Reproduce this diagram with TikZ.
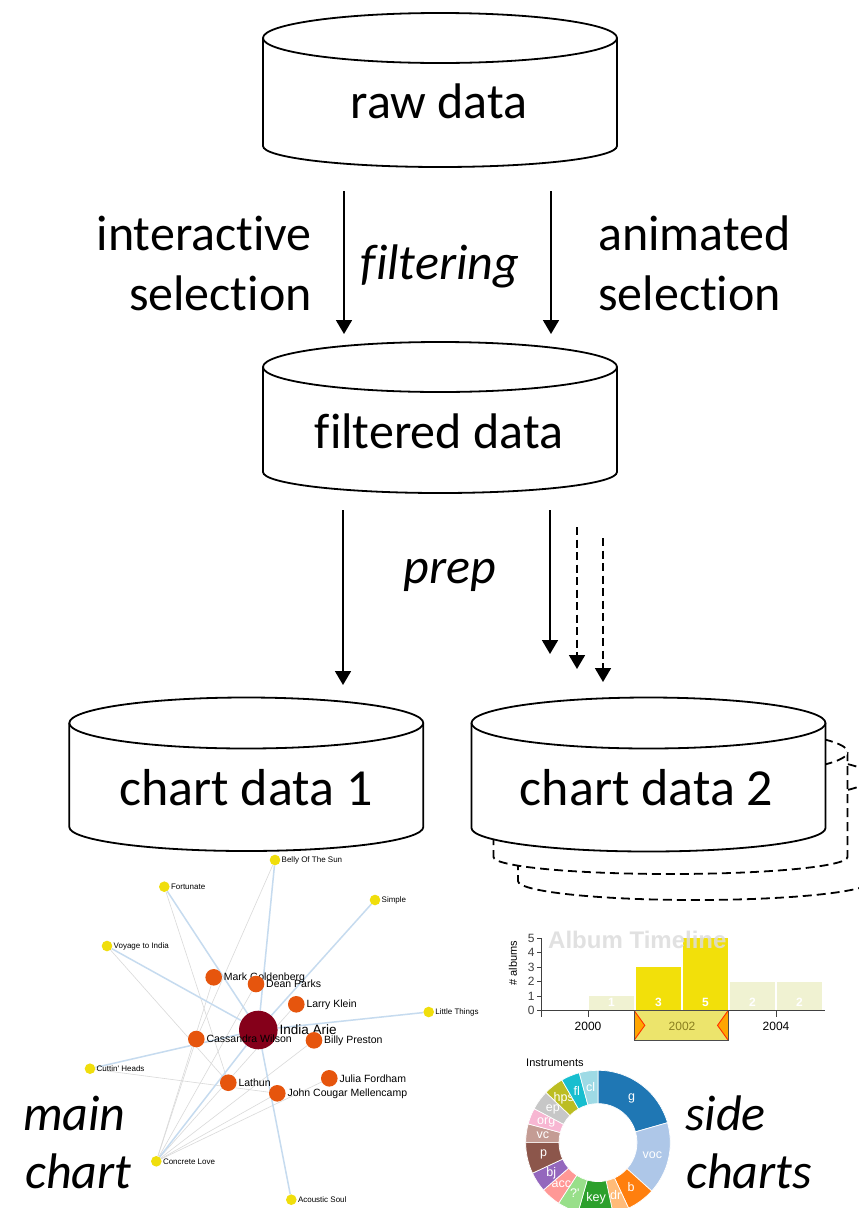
\documentclass[tikz,border=0pt]{standalone}
\usepackage{fontspec}
\setmainfont{Carlito}[Ligatures={NoCommon}]
\newfontfamily\chartfont{Liberation Sans}
\usetikzlibrary{arrows.meta}
\definecolor{albumyel}{HTML}{F0DE0C}
\definecolor{musorange}{HTML}{E6550D}
\definecolor{indiared}{HTML}{85001A}
\definecolor{edgeblue}{HTML}{C6DBEF}
\definecolor{edgegrey}{HTML}{DADADA}
\definecolor{baryel}{HTML}{F2E00A}
\definecolor{barlite}{HTML}{F0F2D2}
\definecolor{brushyel}{HTML}{ECE46C}
\definecolor{handleorange}{HTML}{FFA500}
\definecolor{handlered}{HTML}{FF3000}
\definecolor{titlegrey}{HTML}{DCDCDC}
\definecolor{brushtext}{HTML}{8A7E1E}

\pgfdeclarelayer{paper}
\pgfdeclarelayer{edges}
\pgfsetlayers{paper,edges,main}

% cylinder: [style] cx, top y, bottom y, top ry, bottom ry
\newcommand{\dbdraw}[6][]{%
  \draw[dbline,#1] (#2-177,#3) -- (#2-177,#4)
    arc[start angle=180,end angle=0,x radius=177,y radius=#6]
    -- (#2+177,#3) arc[start angle=0,end angle=-180,x radius=177,y radius=#5] -- cycle;
  \draw[dbline,#1] (#2-177,#3) arc[start angle=180,end angle=0,x radius=177,y radius=#5];
}

\begin{document}
\begin{tikzpicture}[x=1pt,y=-1pt,
    dbline/.style={line width=1.8pt, fill=white},
    dbcopy/.style={dash pattern=on 9pt off 5pt},
    bigtext/.style={font=\fontsize{50}{60}\selectfont, inner sep=0pt, anchor=base},
    flow/.style={line width=1.8pt, -{Triangle[length=14pt,width=16pt]}},
    flowdash/.style={flow, dash pattern=on 8pt off 4.5pt},
    album/.style={circle, fill=albumyel, minimum size=10.6pt, inner sep=0pt},
    musician/.style={circle, fill=musorange, minimum size=16.6pt, inner sep=0pt},
    alblab/.style={anchor=west, inner sep=1pt, font=\chartfont\fontsize{8}{9}\selectfont},
    muslab/.style={anchor=west, inner sep=1.5pt, font=\chartfont\fontsize{10.5}{12}\selectfont},
    blueedge/.style={edgeblue, line width=1.5pt},
    greyedge/.style={edgegrey, line width=0.6pt},
    axisline/.style={line width=0.9pt, black!75},
    ticklab/.style={font=\chartfont\fontsize{12}{13}\selectfont, inner sep=0pt},
    barnum/.style={text=white, anchor=base, inner sep=0pt, font=\chartfont\bfseries\fontsize{12}{13}\selectfont},
    seglab/.style={text=white, inner sep=0pt, font=\chartfont\fontsize{12.5}{14}\selectfont}]
  \begin{pgfonlayer}{paper}
    \fill[white] (0,0) rectangle (859,1208);
  \end{pgfonlayer}
  \useasboundingbox (0,0) rectangle (859,1208);
  \clip (0,0) rectangle (859,1208);

  % data stores
  \dbdraw{440}{38}{146}{25}{21}
  \node[bigtext] (raw) at (439,118) {raw data};
  \dbdraw{440}{367}{472}{25}{21}
  \node[bigtext] (filtered) at (439,448) {filtered data};
  \dbdraw{246.3}{723}{827}{25.5}{24}
  \node[bigtext, font=\fontsize{52}{60}\selectfont] (chart1) at (246,805) {chart data 1};
  \dbdraw[dbcopy]{695}{777}{881}{25.5}{19}
  \dbdraw[dbcopy]{670.5}{752}{857}{25.5}{17}
  \dbdraw{648.5}{723}{828}{25.5}{23.5}
  \node[bigtext, font=\fontsize{52}{60}\selectfont] (chart2) at (646.5,805) {chart data 2};

  % filtering
  \coordinate (fa1) at (344,191);  \coordinate (fb1) at (344,334);
  \coordinate (fa2) at (551,191);  \coordinate (fb2) at (551,334);
  \draw[flow] (fa1) -- (fb1);
  \draw[flow] (fa2) -- (fb2);
  \node[bigtext, anchor=base east] (inter1) at (312,250) {interactive};
  \node[bigtext, anchor=base east] (inter2) at (312,310.5) {selection};
  \node[bigtext] (filtering) at (440,279) {\itshape filtering};
  \node[bigtext, anchor=base west] (anim1) at (598,250) {animated};
  \node[bigtext, anchor=base west] (anim2) at (598,310.5) {selection};

  % prep
  \coordinate (pa1) at (343,510);  \coordinate (pb1) at (343,685);
  \coordinate (pa2) at (550,510);  \coordinate (pb2) at (550,654);
  \coordinate (pa3) at (577,527);  \coordinate (pb3) at (577,669);
  \coordinate (pa4) at (603,538);  \coordinate (pb4) at (603,682);
  \draw[flow] (pa1) -- (pb1);
  \draw[flow] (pa2) -- (pb2);
  \draw[flowdash] (pa3) -- (pb3);
  \draw[flowdash] (pa4) -- (pb4);
  \node[bigtext] (prep) at (450,583) {\itshape prep};

  % main chart: network
  \node[circle, fill=indiared, minimum size=38.6pt, inner sep=0pt] (india) at (258.3,1030) {};
  \node[muslab, font=\chartfont\fontsize{13.5}{15}\selectfont] (india-t) at (india.east) {India Arie};
  \foreach \nm/\x/\y/\t in {mark/213.7/977.3/Mark Goldenberg, dean/256/984/Dean Parks,
      larry/296.3/1004.3/Larry Klein, cassandra/196.3/1039/Cassandra Wilson,
      billy/314/1040.3/Billy Preston, julia/329.3/1078.3/Julia Fordham,
      lathun/228.3/1082.7/Lathun, jcm/277.3/1093.3/John Cougar Mellencamp}
    {\node[musician] (\nm) at (\x,\y) {};
     \node[muslab] (\nm-t) at (\nm.east) {\t};}
  \foreach \nm/\x/\y/\t in {belly/275/860/Belly Of The Sun, fortunate/164.3/886.7/Fortunate,
      simple/375/900/Simple, voyage/107/946/Voyage to India,
      little/428.7/1012/Little Things, cuttin/90/1068.7/Cuttin' Heads,
      concrete/156.3/1161.3/Concrete Love, acoustic/291.3/1199.7/Acoustic Soul}
    {\node[album] (\nm) at (\x,\y) {};
     \node[alblab] (\nm-t) at (\nm.east) {\t};}
  \begin{pgfonlayer}{edges}
    \foreach \a/\b in {concrete/mark, concrete/cassandra, concrete/dean, concrete/larry,
        concrete/billy, concrete/jcm, concrete/julia, belly/cassandra,
        fortunate/lathun, voyage/lathun, cuttin/jcm}
      \draw[greyedge] (\a) -- (\b);
    \foreach \a in {belly,fortunate,simple,voyage,little,cuttin,concrete,acoustic}
      \draw[blueedge] (india) -- (\a);
  \end{pgfonlayer}
  \node[bigtext, anchor=base west] (main1) at (23,1130) {\itshape main};
  \node[bigtext, anchor=base west] (main2) at (25,1188) {\itshape chart};

  % side charts: timeline
  \begin{scope}[shift={(541,1010.7)}, x=47pt, y=14.47pt]
    \foreach \k/\n/\c in {1/1/barlite,2/3/baryel,3/5/baryel,4/2/barlite,5/2/barlite}
      {\fill[\c] (\k+0.016,0) rectangle (\k+0.984,\n);
       \node[barnum] (bar\k) at ([yshift=4pt]\k+0.5,0) {\n};}
    \draw[axisline] (0,0) -- (0,5);
    \foreach \v in {0,...,5}
      \draw[axisline] (0,\v) -- ++(-4pt,0pt) node[ticklab, anchor=east, xshift=-2pt] (yt\v) {\v};
    \draw[axisline] (0,0) -- (6.04,0);
    \foreach \k in {0,1,3,5}
      \draw[axisline] (\k,0) -- ++(0pt,-6pt);
    \node[ticklab, anchor=base] (x2000) at ([yshift=-20pt]1,0) {2000};
    \node[ticklab, anchor=base] (x2004) at ([yshift=-20pt]5,0) {2004};
    \coordinate (bl) at (1.985,0);
    \coordinate (br) at (3.979,0);
    \fill[brushyel] (bl) rectangle ([yshift=-29.3pt]br);
    \fill[handleorange] (bl) -- ([xshift=10.5pt,yshift=-14.65pt]bl) -- ([yshift=-29.3pt]bl) -- cycle;
    \draw[handlered, line width=0.9pt] (bl) -- ([xshift=10.5pt,yshift=-14.65pt]bl) -- ([yshift=-29.3pt]bl);
    \fill[handleorange] (br) -- ([xshift=-10.5pt,yshift=-14.65pt]br) -- ([yshift=-29.3pt]br) -- cycle;
    \draw[handlered, line width=0.9pt] (br) -- ([xshift=-10.5pt,yshift=-14.65pt]br) -- ([yshift=-29.3pt]br);
    \node[ticklab, anchor=base, text=brushtext] (x2002) at ([yshift=-20pt]3,0) {2002};
    \draw[line width=0.9pt, black!70] (bl) rectangle ([yshift=-29.3pt]br);
  \end{scope}
  \node[anchor=base west, inner sep=0pt, text=titlegrey, opacity=0.85,
    font=\chartfont\bfseries\fontsize{24}{26}\selectfont] (tltitle) at (548,948.3) {Album Timeline};
  \node[rotate=90, inner sep=0pt, font=\chartfont\fontsize{11}{12}\selectfont] (ylab) at (513,963) {\# albums};

  % side charts: instruments donut
  \node[anchor=base west, inner sep=0pt, font=\chartfont\fontsize{11}{12}\selectfont] (insttitle) at (526,1066.7) {Instruments};
  \begin{scope}[shift={(598,1142.6)}]
    \foreach \lab/\a/\b/\col [count=\i] in {g/0/74/1F77B4, voc/74/132/AEC7E8, b/132/155/FF7F0E,
        dr/155/168/FFBB78, key/168/196/2CA02C, ?'/196/213/98DF8A, acc/213/229/FF9896,
        bj/229/245/9467BD, p/245/270/8C564B, vc/270/285/C49C94, org/285/298/F7B6D2,
        ep/298/314/C7C7C7, hps/314/330/BCBD22, fl/330/345/17BECF, cl/345/360/9EDAE5}
      {\definecolor{segcol}{HTML}{\col}
       \pgfmathsetmacro{\sa}{\a-90}
       \pgfmathsetmacro{\sb}{\b-90}
       \pgfmathsetmacro{\sm}{(\a+\b)/2-90}
       \filldraw[fill=segcol, draw=white, line width=0.7pt] (\sa:39) -- (\sa:72.3)
         arc[start angle=\sa, end angle=\sb, radius=72.3] -- (\sb:39)
         arc[start angle=\sb, end angle=\sa, radius=39] -- cycle;
       \node[seglab] (seg\i) at (\sm:55.7) {\lab};}
  \end{scope}
  \node[bigtext, anchor=base west] (side1) at (685,1130) {\itshape side};
  \node[bigtext, anchor=base west] (side2) at (686,1188) {\itshape charts};
\end{tikzpicture}
\end{document}
